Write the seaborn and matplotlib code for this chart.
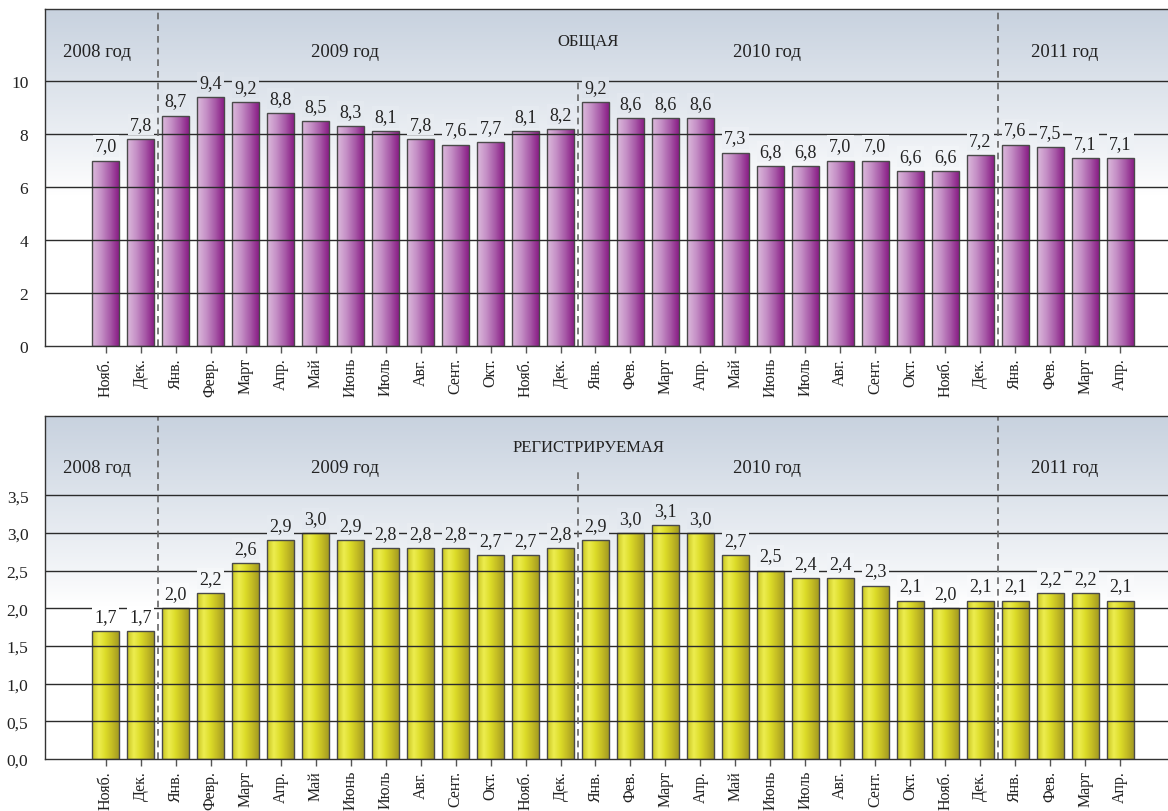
import numpy as np
import pandas as pd
import matplotlib
matplotlib.use('Agg')
import matplotlib.pyplot as plt
from matplotlib.colors import LinearSegmentedColormap, to_rgb
import seaborn as sns

# month labels (Nov 2008 .. Apr 2011)
months = ['Нояб.', 'Дек.',
          'Янв.', 'Февр.', 'Март', 'Апр.', 'Май', 'Июнь', 'Июль', 'Авг.', 'Сент.', 'Окт.', 'Нояб.', 'Дек.',
          'Янв.', 'Фев.', 'Март', 'Апр.', 'Май', 'Июнь', 'Июль', 'Авг.', 'Сент.', 'Окт.', 'Нояб.', 'Дек.',
          'Янв.', 'Фев.', 'Март', 'Апр.']
# general unemployment
total = [7.0, 7.8,
         8.7, 9.4, 9.2, 8.8, 8.5, 8.3, 8.1, 7.8, 7.6, 7.7, 8.1, 8.2,
         9.2, 8.6, 8.6, 8.6, 7.3, 6.8, 6.8, 7.0, 7.0, 6.6, 6.6, 7.2,
         7.6, 7.5, 7.1, 7.1]
# registered unemployment
registered = [1.7, 1.7,
              2.0, 2.2, 2.6, 2.9, 3.0, 2.9, 2.8, 2.8, 2.8, 2.7, 2.7, 2.8,
              2.9, 3.0, 3.1, 3.0, 2.7, 2.5, 2.4, 2.4, 2.3, 2.1, 2.0, 2.1,
              2.1, 2.2, 2.2, 2.1]
years = ['2008 год', '2009 год', '2010 год', '2011 год']
year_centers = [-0.26, 6.83, 18.9, 27.4]   # in bar-index units
year_breaks = [1.5, 13.5, 25.5]

sns.set_theme(style='white')
plt.rcParams['font.family'] = ['Liberation Serif', 'DejaVu Serif']

bg_top = np.array(to_rgb('#c8d2df'))
white = np.array([1.0, 1.0, 1.0])


def bg_color(f):
    t = np.clip((f - 0.45) / 0.55, 0, 1) ** 0.9
    return tuple(white * (1 - t) + bg_top * t)


purple = LinearSegmentedColormap.from_list('purp', ['#dcbadc', '#c692c7', '#a95ca9', '#8a1e86'])
yellow = LinearSegmentedColormap.from_list('yell', ['#c8c420', '#eded50', '#dcdc28', '#c4bc24', '#a49c22'])

fig = plt.figure(figsize=(11.68, 8.12), dpi=100)
ax1 = fig.add_axes([45 / 1168, 1 - 347 / 812, 1 - 45 / 1168, 337 / 812])
ax2 = fig.add_axes([45 / 1168, 1 - 760 / 812, 1 - 45 / 1168, 343 / 812])

panels = [
    (ax1, total, purple, 12.72, np.arange(0, 11, 2), 'ОБЩАЯ', 11.5, 11.1, 10 / 12.72,
     lambda v: f'{v:.0f}'),
    (ax2, registered, yellow, 4.55, np.arange(0, 3.6, 0.5), 'РЕГИСТРИРУЕМАЯ', 4.14, 3.87, 0.845,
     lambda v: f'{v:.1f}'.replace('.', ',')),
]

xlim = (-1.74, 30.37)
for ax, vals, cmap, ytop, yticks, title, title_y, year_y, mid_break, fmt in panels:
    df = pd.DataFrame({'pos': np.arange(len(vals)), 'value': vals})
    sns.barplot(data=df, x='pos', y='value', ax=ax, width=0.77, color='#999999',
                edgecolor='#4a4a4a', linewidth=1.0, zorder=2)
    # gradient background
    grad = np.linspace(0, 1, 256).reshape(-1, 1)
    bg = np.array([bg_color(f) for f in grad[:, 0]]).reshape(-1, 1, 3)
    ax.imshow(bg, extent=(0, 1, 0, 1), transform=ax.transAxes, origin='lower',
              aspect='auto', zorder=0)
    # gradient bars
    hgrad = np.linspace(0, 1, 64).reshape(1, -1)
    for p in ax.patches:
        x, y, w, h = p.get_x(), p.get_y(), p.get_width(), p.get_height()
        im = ax.imshow(hgrad, extent=(x, x + w, y, y + h), aspect='auto', cmap=cmap,
                       zorder=2.1)
        im.set_clip_path(p)
        p.set_facecolor('none')
        p.set_zorder(2.2)
    ax.set_xlim(*xlim)
    ax.set_ylim(0, ytop)
    # gridlines above bars
    for t in yticks[1:]:
        ax.axhline(t, color='#2b2b2b', lw=1.0, zorder=3)
    # year separators
    for i, b in enumerate(year_breaks):
        ymax = mid_break if i == 1 else 1.0
        ax.axvline(b, ymin=0, ymax=ymax, color='#666666', lw=1.2, ls=(0, (4, 3)), zorder=3.5)
    # value labels
    for i, v in enumerate(vals):
        ytxt = v + ytop * 0.018
        f = ytxt / ytop
        ax.text(i, ytxt, f'{v:.1f}'.replace('.', ','), ha='center', va='bottom',
                fontsize=13, color='#222222', zorder=4,
                bbox=dict(boxstyle='square,pad=0.12', fc=bg_color(f + 0.03), ec='none'))
    # year labels and title
    for name, xc in zip(years, year_centers):
        ax.text(xc, year_y, name, ha='center', va='center', fontsize=13.5, color='#222222', zorder=4)
    ax.text(13.8, title_y, title, ha='center', va='center', fontsize=12, color='#222222', zorder=4)
    ax.set_yticks(yticks)
    ax.set_yticklabels([fmt(t) for t in yticks], fontsize=12.5, color='#222222')
    ax.set_xticks(np.arange(len(vals)))
    ax.set_xticklabels(months, rotation=90, fontsize=11.5, color='#222222')
    ax.tick_params(axis='x', length=5, width=1, color='#555555', pad=3, bottom=True)
    ax.tick_params(axis='y', length=0, pad=12)
    ax.set_xlabel('')
    ax.set_ylabel('')
    for s in ['left', 'bottom', 'top']:
        ax.spines[s].set_color('#333333')
        ax.spines[s].set_linewidth(1.0)
        ax.spines[s].set_zorder(5)
    ax.spines['right'].set_visible(False)

fig.savefig('out.png', dpi=100)
